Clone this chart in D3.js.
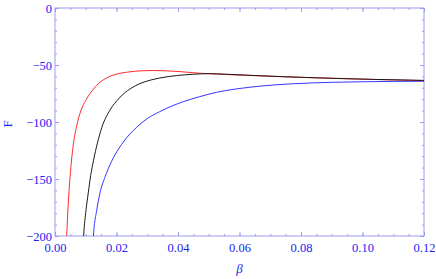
<!DOCTYPE html>
<html>
<head>
<meta charset="utf-8">
<script src="https://cdn.jsdelivr.net/npm/d3@7"></script>
<style>
  body { margin: 0; background: #fff; }
  svg text { font-family: "Liberation Serif", "Times New Roman", serif; }
</style>
</head>
<body>
<svg id="canvas" width="436" height="279"></svg>
<script>
  // Curve samples (beta, F)
  var RED_BETA = [0.0035, 0.0038, 0.0042, 0.0049, 0.0060, 0.0070, 0.0085, 0.0100, 0.0114, 0.0135, 0.0157, 0.0180, 0.0200, 0.0244, 0.0280, 0.0320, 0.0360, 0.0400, 0.0470, 0.0550, 0.0650, 0.0750, 0.0850, 0.0950, 0.1050, 0.1200];
  var RED_F = [-215, -200, -177, -148, -119, -104, -89.5, -81, -75, -68, -63, -59.8, -58, -56, -55.1, -54.8, -55.1, -55.7, -57.2, -58.3, -59.4, -60.4, -61.3, -62.1, -62.8, -63.7];

  var BLACK_BETA = [0.0090, 0.0093, 0.0101, 0.0108, 0.0116, 0.0125, 0.0138, 0.0152, 0.0179, 0.0209, 0.0222, 0.0250, 0.0276, 0.0310, 0.0341, 0.0395, 0.0450, 0.0500, 0.0550, 0.0650, 0.0750, 0.0850, 0.0950, 0.1050, 0.1200];
  var BLACK_F = [-215, -200, -177, -162.5, -147, -134, -118.5, -105, -89.5, -79, -75.5, -70, -66.3, -63.3, -61.4, -59.3, -58.1, -57.6, -58.0, -59.2, -60.3, -61.2, -62.0, -62.7, -63.5];

  var BLUE_BETA = [0.0122, 0.0125, 0.0136, 0.0146, 0.0163, 0.0184, 0.0217, 0.0266, 0.0300, 0.0340, 0.0380, 0.0417, 0.0470, 0.0525, 0.0634, 0.0764, 0.0900, 0.1000, 0.1100, 0.1200];
  var BLUE_F = [-215, -200, -177, -162.5, -148, -134.5, -119.5, -104.5, -97, -91, -86, -82.2, -77.8, -74, -69.5, -66.6, -65.2, -64.7, -64.4, -64.2];

  var X_TICKS = [0, 0.02, 0.04, 0.06, 0.08, 0.10, 0.12];
  var Y_TICKS = [0, -50, -100, -150, -200];

  var margin = { top: 8, right: 12, bottom: 43, left: 55 };
  var width = 436, height = 279;
  var frameColor = '#9c9cf2';
  var labelColor = '#2222f2';

  var canvas = d3.select('#canvas');

  var x = d3.scaleLinear().domain([0, 0.12]).range([margin.left, width - margin.right]);
  var y = d3.scaleLinear().domain([-200, 0]).range([height - margin.bottom, margin.top]);

  // Minor tick positions
  var xMinor = d3.range(0, 0.1201, 0.005);
  var yMinor = d3.range(-200, 0.1, 10);

  function styleAxis(g) {
    g.select('.domain').remove();
    g.selectAll('line').attr('stroke', frameColor);
    g.selectAll('text').attr('fill', labelColor).style('font-size', '12.5px');
  }

  var fmtMinus = function (d) { return d < 0 ? '\u2212' + Math.abs(d) : '' + d; };

  // Bottom
  canvas.append('g').attr('transform', 'translate(0,' + y(-200) + ')')
    .call(d3.axisBottom(x).tickValues(xMinor).tickSize(-2).tickFormat(''))
    .call(styleAxis);
  canvas.append('g').attr('transform', 'translate(0,' + y(-200) + ')')
    .call(d3.axisBottom(x).tickValues(X_TICKS).tickSize(-4).tickPadding(7).tickFormat(d3.format('.2f')))
    .call(styleAxis);
  // Top
  canvas.append('g').attr('transform', 'translate(0,' + y(0) + ')')
    .call(d3.axisTop(x).tickValues(xMinor).tickSize(-2).tickFormat(''))
    .call(styleAxis);
  canvas.append('g').attr('transform', 'translate(0,' + y(0) + ')')
    .call(d3.axisTop(x).tickValues(X_TICKS).tickSize(-4).tickFormat(''))
    .call(styleAxis);
  // Left
  canvas.append('g').attr('transform', 'translate(' + x(0) + ',0)')
    .call(d3.axisLeft(y).tickValues(yMinor).tickSize(-2).tickFormat(''))
    .call(styleAxis);
  canvas.append('g').attr('transform', 'translate(' + x(0) + ',0)')
    .call(d3.axisLeft(y).tickValues(Y_TICKS).tickSize(-4).tickPadding(3).tickFormat(fmtMinus))
    .call(styleAxis);
  // Right
  canvas.append('g').attr('transform', 'translate(' + x(0.12) + ',0)')
    .call(d3.axisRight(y).tickValues(yMinor).tickSize(-2).tickFormat(''))
    .call(styleAxis);
  canvas.append('g').attr('transform', 'translate(' + x(0.12) + ',0)')
    .call(d3.axisRight(y).tickValues(Y_TICKS).tickSize(-4).tickFormat(''))
    .call(styleAxis);

  // Frame
  canvas.append('rect')
    .attr('x', x(0)).attr('y', y(0))
    .attr('width', x(0.12) - x(0)).attr('height', y(-200) - y(0))
    .attr('fill', 'none').attr('stroke', frameColor).attr('stroke-width', 1);

  // Clip the curves to the plot box
  canvas.append('defs').append('clipPath').attr('id', 'plot-clip')
    .append('rect')
    .attr('x', x(0)).attr('y', y(0))
    .attr('width', x(0.12) - x(0)).attr('height', y(-200) - y(0));

  var line = d3.line()
    .x(function (d) { return x(d[0]); })
    .y(function (d) { return y(d[1]); })
    .curve(d3.curveMonotoneX);

  var series = [
    { beta: BLUE_BETA, f: BLUE_F, color: '#3535ff' },
    { beta: RED_BETA, f: RED_F, color: '#ff2a2a' },
    { beta: BLACK_BETA, f: BLACK_F, color: '#1a1a1a' }
  ];

  canvas.append('g').attr('clip-path', 'url(#plot-clip)')
    .selectAll('path')
    .data(series)
    .enter()
    .append('path')
    .attr('d', function (s) { return line(d3.zip(s.beta, s.f)); })
    .attr('fill', 'none')
    .attr('stroke', function (s) { return s.color; })
    .attr('stroke-width', 1);

  // Axis labels
  canvas.append('text')
    .attr('transform', 'translate(12,' + (y(-100) + 2) + ') rotate(-90)')
    .attr('text-anchor', 'middle')
    .attr('fill', labelColor)
    .style('font-size', '13px')
    .text('F');

  canvas.append('text')
    .attr('x', (x(0) + x(0.12)) / 2)
    .attr('y', 273)
    .attr('text-anchor', 'middle')
    .attr('fill', labelColor)
    .style('font-size', '13px')
    .style('font-style', 'italic')
    .text('\u03b2');
</script>
</body>
</html>
